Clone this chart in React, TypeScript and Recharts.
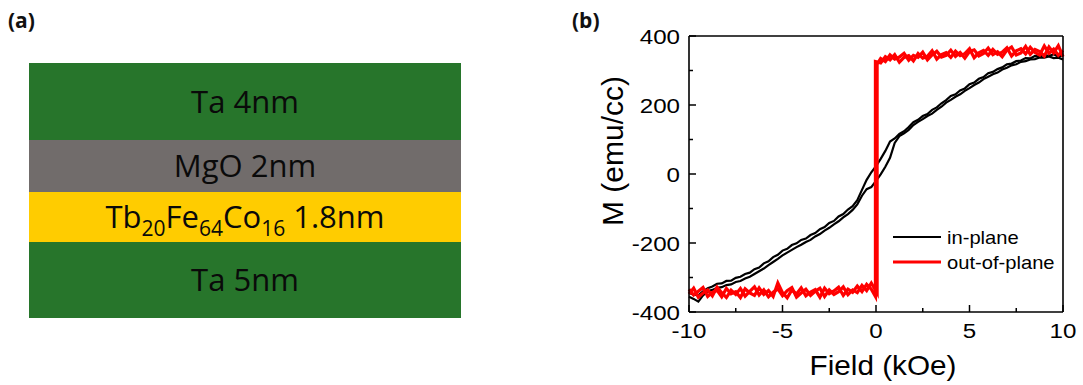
import React from 'react';
import { BarChart, Bar, XAxis, YAxis, LabelList, LineChart, Line, Legend, Label } from 'recharts';

// ---------------- Panel (a): layer stack (bottom -> top) ----------------
const layerKeys = ['ta5', 'tbfeco', 'mgo', 'ta4'];
const layerLabels: [string, boolean][][] = [
  [['Ta 5nm', false]],
  [['Tb', false], ['20', true], ['Fe', false], ['64', true], ['Co', false], ['16', true], [' 1.8nm', false]],
  [['MgO 2nm', false]],
  [['Ta 4nm', false]],
];
// schematic drawing heights of each layer (not to scale)
const layerDrawHeights = [76, 50, 52, 77];
const layerColors = ['#27752B', '#FFCC00', '#716C6B', '#27752B'];

// ---------------- Panel (b): hysteresis loops ----------------
const xTicks = [-10, -7.5, -5, -2.5, 0, 2.5, 5, 7.5, 10];
const xMajor = [-10, -5, 0, 5, 10];
const yTicks = [-400, -300, -200, -100, 0, 100, 200, 300, 400];
const yMajor = [-400, -200, 0, 200, 400];

const inPlaneField = [
  -10, -9.75, -9.5, -9.25, -9, -8.75, -8.5, -8.25, -8, -7.75, -7.5, -7.25, -7, -6.75, -6.5, -6.25,
  -6, -5.75, -5.5, -5.25, -5, -4.75, -4.5, -4.25, -4, -3.75, -3.5, -3.25, -3, -2.75, -2.5, -2.25,
  -2, -1.75, -1.5, -1.25, -1, -0.75, -0.5, -0.25, 0, 0.25, 0.5, 0.75, 1, 1.25, 1.5, 1.75,
  2, 2.25, 2.5, 2.75, 3, 3.25, 3.5, 3.75, 4, 4.25, 4.5, 4.75, 5, 5.25, 5.5, 5.75,
  6, 6.25, 6.5, 6.75, 7, 7.25, 7.5, 7.75, 8, 8.25, 8.5, 8.75, 9, 9.25, 9.5, 9.75, 10,
];
// descending sweep (+10 -> -10), listed in field order
const inPlaneDown = [
  -344, -350, -352, -340, -331, -326, -318, -317, -310, -309, -301, -298, -290, -286, -276, -271,
  -259, -253, -241, -234, -222, -217, -206, -201, -191, -187, -177, -171, -160, -154, -142, -136,
  -123, -116, -103, -93, -76, -46, -17, 5, 23, 44, 67, 94, 103, 116, 124, 136,
  150, 157, 168, 174, 186, 193, 205, 214, 226, 231, 242, 248, 260, 265, 276, 281,
  292, 296, 304, 309, 318, 320, 327, 329, 336, 335, 342, 340, 346, 342, 347, 340, 343,
];
// ascending sweep (-10 -> +10)
const inPlaneUp = [
  -356, -362, -370, -352, -340, -336, -330, -328, -322, -320, -313, -310, -303, -298, -290, -282,
  -274, -264, -255, -246, -236, -228, -220, -212, -205, -197, -191, -181, -174, -164, -156, -146,
  -137, -126, -116, -104, -88, -63, -44, -38, -20, -1, 21, 47, 90, 110, 118, 128,
  142, 151, 159, 168, 175, 186, 195, 207, 215, 224, 231, 241, 249, 258, 265, 275,
  282, 289, 294, 303, 308, 315, 318, 325, 327, 332, 333, 338, 337, 341, 336, 337, 332,
];

const oopTopField = [
  0.25, 0.5, 0.75, 1, 1.25, 1.5, 1.75, 2, 2.25, 2.5, 2.75, 3, 3.25, 3.5, 3.75, 4, 4.25, 4.5, 4.75, 5,
  5.25, 5.5, 5.75, 6, 6.25, 6.5, 6.75, 7, 7.25, 7.5, 7.75, 8, 8.25, 8.5, 8.75, 9, 9.25, 9.5, 9.75, 10,
];
const oopDownTop = [
  322, 340, 331, 346, 324, 338, 343, 328, 349, 336, 341, 357, 333, 346, 352, 338, 356, 343, 349, 363,
  337, 351, 358, 344, 361, 347, 353, 366, 342, 357, 363, 348, 367, 352, 345, 371, 350, 362, 344, 358,
];
const oopUpTop = [
  335, 326, 345, 333, 339, 350, 330, 344, 338, 353, 331, 345, 356, 339, 344, 359, 341, 352, 336, 355,
  360, 342, 349, 365, 346, 354, 340, 359, 368, 345, 351, 370, 347, 361, 355, 342, 368, 351, 372, 340,
];
const oopBottomField = [
  -10, -9.75, -9.5, -9.25, -9, -8.75, -8.5, -8.25, -8, -7.75, -7.5, -7.25, -7, -6.75, -6.5, -6.25,
  -6, -5.75, -5.5, -5.25, -5, -4.75, -4.5, -4.25, -4, -3.75, -3.5, -3.25, -3, -2.75, -2.5, -2.25,
  -2, -1.75, -1.5, -1.25, -1, -0.75, -0.5, -0.25,
];
const oopDownBottom = [
  -334, -351, -340, -329, -355, -343, -337, -356, -332, -347, -341, -358, -333, -345, -352, -330,
  -349, -338, -355, -316, -344, -359, -336, -348, -330, -353, -342, -335, -357, -331, -347, -339,
  -328, -352, -334, -343, -325, -341, -320, -334,
];
const oopUpBottom = [
  -348, -331, -357, -345, -336, -353, -328, -344, -358, -337, -349, -332, -354, -340, -327, -351,
  -336, -356, -343, -333, -353, -338, -329, -357, -345, -334, -352, -340, -331, -355, -336, -349,
  -341, -327, -350, -336, -344, -323, -338, -316,
];
// switching fields and magnetisation just before / after reversal
const oopDownSwitchField = -0.03;
const oopDownSwitchM = [326, -355];
const oopUpSwitchField = 0.06;
const oopUpSwitchM = [-345, 318];

const legendItems = [
  { label: 'in-plane', color: '#000000', width: 2.2 },
  { label: 'out-of-plane', color: '#FF0000', width: 3.2 },
];

// ---------------- derived tables ----------------
const stackRow: Record<string, any> = { name: 'stack' };
layerKeys.forEach((k, i) => { stackRow[k] = layerDrawHeights[i]; });
const stackTotal = layerDrawHeights.reduce((a, b) => a + b, 0);

const inPlaneDownData = inPlaneField.map((h, i) => ({ h, m: inPlaneDown[i] })).reverse();
const inPlaneUpData = inPlaneField.map((h, i) => ({ h, m: inPlaneUp[i] }));

const oopDownData = [
  ...oopTopField.map((h, i) => ({ h, m: oopDownTop[i] })).reverse(),
  { h: oopDownSwitchField, m: oopDownSwitchM[0] },
  { h: oopDownSwitchField, m: oopDownSwitchM[1] },
  ...oopBottomField.map((h, i) => ({ h, m: oopDownBottom[i] })).reverse(),
];
const oopUpData = [
  ...oopBottomField.map((h, i) => ({ h, m: oopUpBottom[i] })),
  { h: oopUpSwitchField, m: oopUpSwitchM[0] },
  { h: oopUpSwitchField, m: oopUpSwitchM[1] },
  ...oopTopField.map((h, i) => ({ h, m: oopUpTop[i] })),
];

const ARIAL = '"Liberation Sans", Arial, sans-serif';
const SANS = '"Open Sans", "Noto Sans", sans-serif';

function LayerText(props: any) {
  const { x, y, width, height, segs } = props;
  const cx = Number(x) + Number(width) / 2;
  const cy = Number(y) + Number(height) / 2;
  let inSub = false;
  return (
    <text x={cx} y={cy + 11} textAnchor="middle" fontFamily={SANS} fontSize={31} fill="#0a0a0a" style={{ whiteSpace: 'pre' }}>
      {segs.map(([t, sub]: [string, boolean], k: number) => {
        let dy = 0;
        if (sub && !inSub) dy = 8;
        if (!sub && inSub) dy = -8;
        inSub = sub;
        return (
          <tspan key={k} dy={dy} fontSize={sub ? 21 : 31}>{t}</tspan>
        );
      })}
    </text>
  );
}

function BottomTick(props: any) {
  const { x, y, payload } = props;
  const major = xMajor.includes(payload.value);
  return (
    <g>
      <line x1={x} x2={x} y1={y} y2={y - (major ? 7 : 4)} stroke="#000" strokeWidth={1.5} />
      {major && (
        <text transform={`translate(${x},${y + 26}) scale(1.15,1)`} textAnchor="middle" fontFamily={ARIAL} fontSize={21} fill="#000">
          {payload.value}
        </text>
      )}
    </g>
  );
}
function TopTick(props: any) {
  const { x, y, payload } = props;
  const major = xMajor.includes(payload.value);
  return <line x1={x} x2={x} y1={y} y2={y + (major ? 7 : 4)} stroke="#000" strokeWidth={1.5} />;
}
function LeftTick(props: any) {
  const { x, y, payload } = props;
  const major = yMajor.includes(payload.value);
  return (
    <g>
      <line x1={x} x2={x + (major ? 7 : 4)} y1={y} y2={y} stroke="#000" strokeWidth={1.5} />
      {major && (
        <text transform={`translate(${x - 9},${y + 7.5}) scale(1.15,1)`} textAnchor="end" fontFamily={ARIAL} fontSize={21} fill="#000">
          {payload.value}
        </text>
      )}
    </g>
  );
}
function RightTick(props: any) {
  const { x, y, payload } = props;
  const major = yMajor.includes(payload.value);
  return <line x1={x} x2={x - (major ? 7 : 4)} y1={y} y2={y} stroke="#000" strokeWidth={1.5} />;
}

function XTitle(props: any) {
  const vb = props.viewBox || {};
  const cx = vb.x + vb.width / 2 + 7;
  const by = vb.y + 63;
  return (
    <text transform={`translate(${cx},${by}) scale(1.1,1)`} textAnchor="middle" fontFamily={ARIAL} fontSize={27} fill="#000">
      Field (kOe)
    </text>
  );
}
function YTitle(props: any) {
  const vb = props.viewBox || {};
  const bx = vb.x + 63;
  const cy = vb.y + vb.height / 2 - 23;
  return (
    <text transform={`translate(${bx},${cy}) rotate(-90)`} textAnchor="middle" fontFamily={ARIAL} fontSize={30} fill="#000">
      M (emu/cc)
    </text>
  );
}

function LegendBox() {
  return (
    <svg width={200} height={52}>
      {legendItems.map((it, i) => {
        const cy = 12 + i * 25;
        return (
          <g key={it.label}>
            <line x1={0} x2={48} y1={cy} y2={cy} stroke={it.color} strokeWidth={it.width} />
            <text transform={`translate(54,${cy + 6.5}) scale(1.12,1)`} fontFamily={ARIAL} fontSize={18} fill="#000">
              {it.label}
            </text>
          </g>
        );
      })}
    </svg>
  );
}

export default function App() {
  return (
    <div style={{ position: 'relative', width: 1083, height: 385, background: '#fff', overflow: 'hidden' }}>
      <style>{'body{margin:0;background:#fff}'}</style>
      <svg width={1083} height={385} style={{ position: 'absolute', left: 0, top: 0, pointerEvents: 'none' }}>
        <text x={8} y={28} fontFamily={SANS} fontWeight={700} fontSize={21} fill="#111">(a)</text>
        <text x={572} y={28} fontFamily={SANS} fontWeight={700} fontSize={21} fill="#111">(b)</text>
      </svg>

      <div style={{ position: 'absolute', left: 29, top: 63 }}>
        <BarChart width={432} height={stackTotal} data={[stackRow]} margin={{ top: 0, right: 0, bottom: 0, left: 0 }} barCategoryGap={0}>
          <XAxis dataKey="name" hide />
          <YAxis hide domain={[0, stackTotal]} />
          {layerKeys.map((k, i) => (
            <Bar key={k} dataKey={k} stackId="film" fill={layerColors[i]} isAnimationActive={false}>
              <LabelList dataKey={k} content={(p: any) => <LayerText {...p} segs={layerLabels[i]} />} />
            </Bar>
          ))}
        </BarChart>
      </div>

      <div style={{ position: 'absolute', left: 560, top: 0 }}>
        <LineChart width={523} height={385} margin={{ top: 0, right: 0, bottom: 0, left: 0 }}>
          <XAxis
            xAxisId={0}
            type="number"
            dataKey="h"
            domain={[-10, 10]}
            ticks={xTicks}
            interval={0}
            orientation="bottom"
            height={73}
            tickSize={0}
            tickMargin={0}
            tickLine={false}
            axisLine={{ stroke: '#000', strokeWidth: 1.6 }}
            tick={(p: any) => <BottomTick {...p} />}
          >
            <Label content={(p: any) => <XTitle {...p} />} />
          </XAxis>
          <XAxis
            xAxisId="top"
            type="number"
            dataKey="h"
            domain={[-10, 10]}
            ticks={xTicks}
            interval={0}
            orientation="top"
            height={36}
            tickSize={0}
            tickMargin={0}
            tickLine={false}
            axisLine={{ stroke: '#000', strokeWidth: 1.6 }}
            tick={(p: any) => <TopTick {...p} />}
          />
          <YAxis
            yAxisId={0}
            type="number"
            domain={[-400, 400]}
            ticks={yTicks}
            interval={0}
            orientation="left"
            width={129}
            tickSize={0}
            tickMargin={0}
            tickLine={false}
            axisLine={{ stroke: '#000', strokeWidth: 1.6 }}
            tick={(p: any) => <LeftTick {...p} />}
          >
            <Label content={(p: any) => <YTitle {...p} />} />
          </YAxis>
          <YAxis
            yAxisId="right"
            type="number"
            domain={[-400, 400]}
            ticks={yTicks}
            interval={0}
            orientation="right"
            width={20}
            tickSize={0}
            tickMargin={0}
            tickLine={false}
            axisLine={{ stroke: '#000', strokeWidth: 1.6 }}
            tick={(p: any) => <RightTick {...p} />}
          />
          <Line data={inPlaneDownData} dataKey="m" stroke="#000" strokeWidth={2.2} dot={false} isAnimationActive={false} type="linear" />
          <Line data={inPlaneUpData} dataKey="m" stroke="#000" strokeWidth={2.2} dot={false} isAnimationActive={false} type="linear" />
          <Line data={oopDownData} dataKey="m" stroke="#FF0000" strokeWidth={3.2} dot={false} isAnimationActive={false} type="linear" />
          <Line data={oopUpData} dataKey="m" stroke="#FF0000" strokeWidth={3.2} dot={false} isAnimationActive={false} type="linear" />
          <Legend
            layout="horizontal"
            verticalAlign="middle"
            align="center"
            wrapperStyle={{ left: 333, top: 225, width: 200, height: 52 }}
            content={() => <LegendBox />}
          />
        </LineChart>
      </div>
    </div>
  );
}
